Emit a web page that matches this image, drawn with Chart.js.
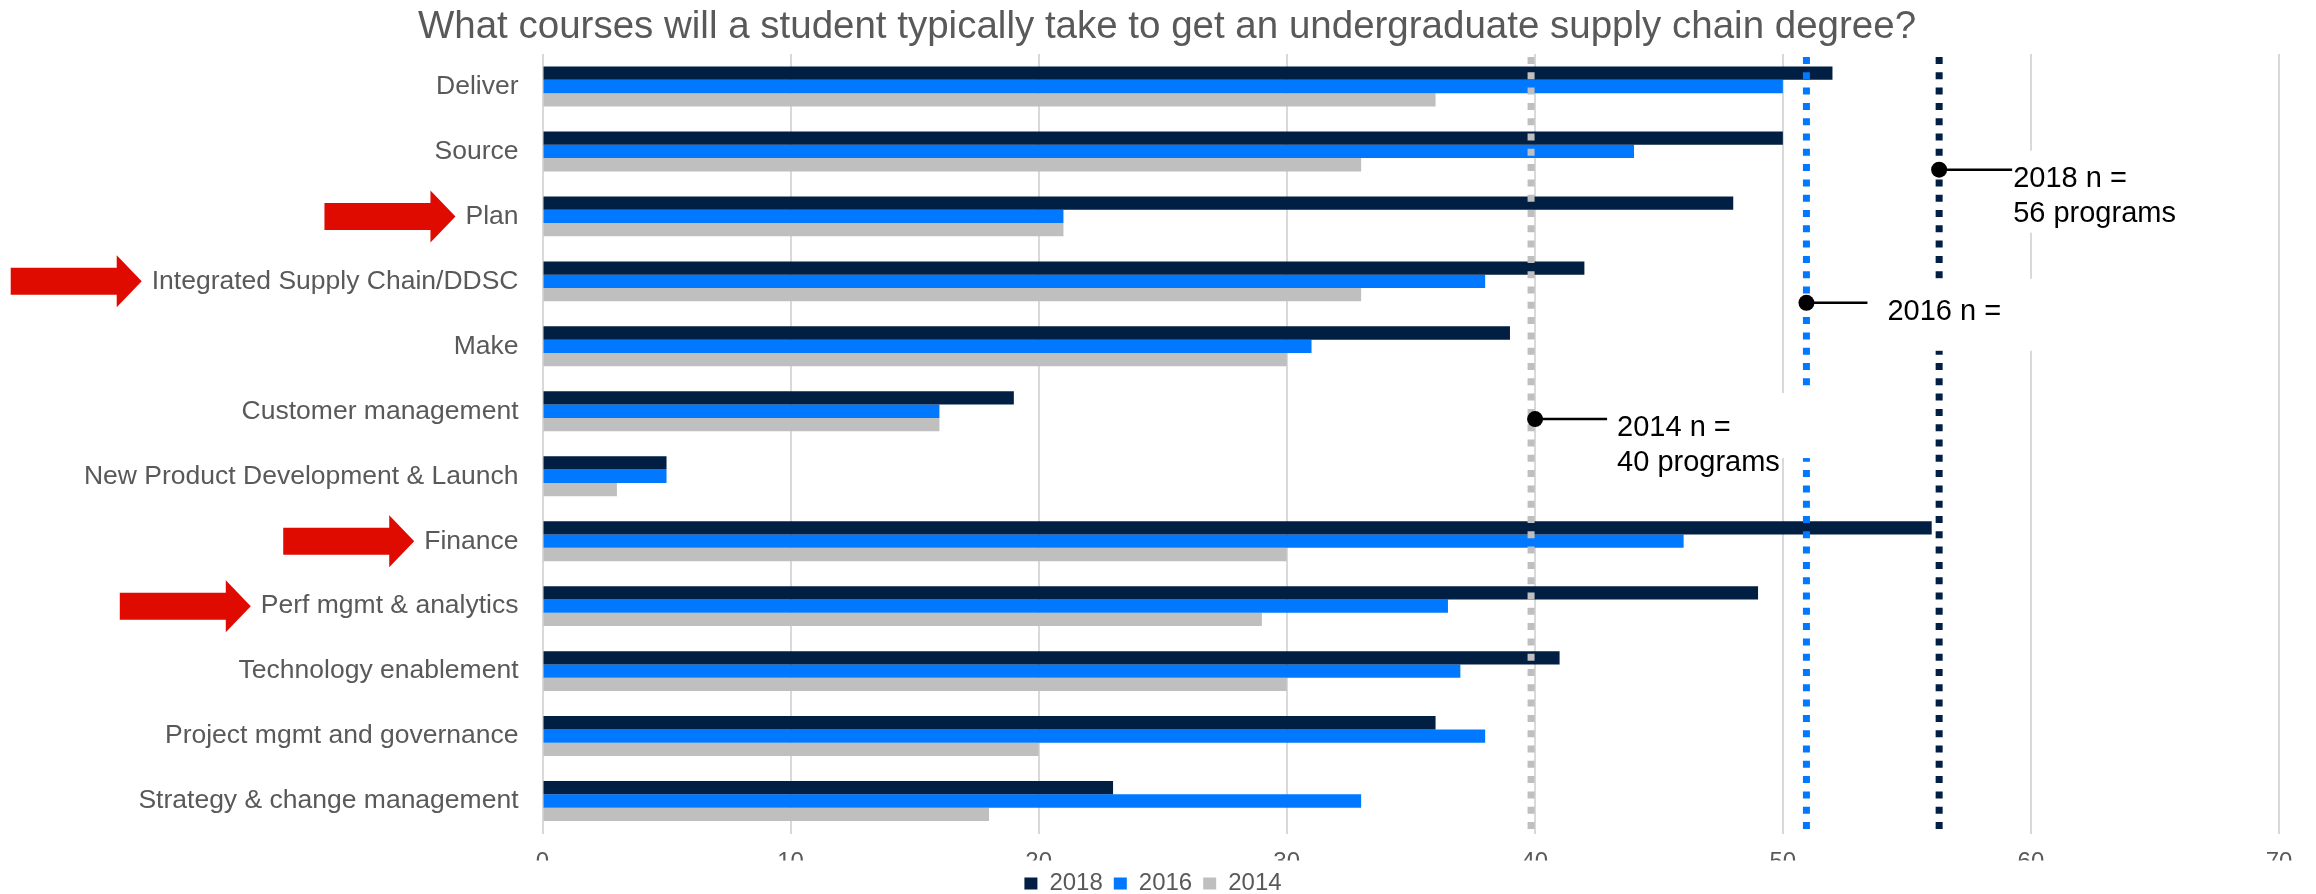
<!DOCTYPE html>
<html>
<head>
<meta charset="utf-8">
<title>Undergraduate supply chain courses</title>
<script src="https://cdn.jsdelivr.net/npm/chart.js@4.4.1/dist/chart.umd.min.js"></script>
<style>
  html, body { margin: 0; padding: 0; background: #fff; }
  #wrap { width: 2316px; height: 894px; }
</style>
</head>
<body>
<div id="wrap"><canvas id="coursesChart" width="2316" height="894"></canvas></div>
<script>
/** Data */
const CATEGORIES = [
  "Deliver",
  "Source",
  "Plan",
  "Integrated Supply Chain/DDSC",
  "Make",
  "Customer management",
  "New Product Development & Launch",
  "Finance",
  "Perf mgmt & analytics",
  "Technology enablement",
  "Project mgmt and governance",
  "Strategy & change management",
];
const YEARS       = ["2018", "2016", "2014"];
const SERIES_2018 = [52, 50, 48, 42, 39, 19, 5, 56, 49, 41, 36, 23];
const SERIES_2016 = [50, 44, 21, 38, 31, 16, 5, 46, 36.5, 37, 38, 33];
const SERIES_2014 = [36, 33, 21, 33, 30, 16, 3, 30, 29, 30, 20, 18];
const X_TICKS     = [0, 10, 20, 30, 40, 50, 60, 70];

// categories flagged with a red arrow
const HIGHLIGHTED = ["Plan", "Integrated Supply Chain/DDSC", "Finance", "Perf mgmt & analytics"];

// "n programs" markers: x value of each dotted line, category position of its callout dot
const N_LINE_VALUES  = [56.3, 50.95, 39.85];
const N_CALLOUT_AT   = [1.28, 3.33, 5.12];
const N_CALLOUT_TEXT = [["2018 n =", "56 programs"], ["2016 n ="], ["2014 n =", "40 programs"]];

/** Styling */
const FONT        = "'Liberation Sans', Arial, sans-serif";
const TEXT_GREY   = "#595959";
const COLORS      = ["#011F42", "#0078FF", "#BFBFBF"];
const ARROW_RED   = "#DF0B00";
const LABEL_SIZE  = 26.5;
const PLOT_LEFT   = 542.5;
const LEFT_PAD    = 55;
const LEGEND_NUDGE = -14;

// offsets (px) of dot, callout text and white text box from the dotted line
const CALLOUT_LAYOUT = [
  { dotDx: 0, textDx: 74, lineEnd: 73, boxTop: -19, boxBottom: 63 },
  { dotDx: 0, textDx: 81, lineEnd: 61, boxTop: -24, boxBottom: 48 },
  { dotDx: 4, textDx: 82, lineEnd: 72, boxTop: -26, boxBottom: 39 },
];

/** Red arrows next to highlighted category labels */
const arrowPlugin = {
  id: "arrows",
  afterDraw(chart) {
    const ctx = chart.ctx;
    const yScale = chart.scales.y;
    ctx.save();
    ctx.font = `${LABEL_SIZE}px ${FONT}`;
    ctx.fillStyle = ARROW_RED;
    HIGHLIGHTED.forEach((name) => {
      const idx = CATEGORIES.indexOf(name);
      const y = yScale.getPixelForValue(idx);
      const textLeft = yScale.right - yScale.options.ticks.padding - ctx.measureText(name).width;
      const tip = textLeft - 10;
      const headBase = tip - 25;
      const tail = tip - 131;
      ctx.beginPath();
      ctx.moveTo(tail, y - 13.5);
      ctx.lineTo(headBase, y - 13.5);
      ctx.lineTo(headBase, y - 26);
      ctx.lineTo(tip, y);
      ctx.lineTo(headBase, y + 26);
      ctx.lineTo(headBase, y + 13.5);
      ctx.lineTo(tail, y + 13.5);
      ctx.closePath();
      ctx.fill();
    });
    ctx.restore();
  },
};

/** Dotted "n" lines with their callouts */
const nLinesPlugin = {
  id: "nLines",
  afterLayout(chart) {
    // legend sits a little left of the title's centre in the original
    chart.legend.left += LEGEND_NUDGE;
    chart.legend.right += LEGEND_NUDGE;
  },
  afterDatasetsDraw(chart) {
    const ctx = chart.ctx;
    const { top, bottom } = chart.chartArea;
    const xs = chart.scales.x;
    const ys = chart.scales.y;
    ctx.save();

    // dotted lines
    ctx.lineWidth = 7;
    ctx.setLineDash([7, 8.3]);
    N_LINE_VALUES.forEach((v, i) => {
      const x = xs.getPixelForValue(v);
      ctx.strokeStyle = COLORS[i];
      ctx.beginPath();
      ctx.moveTo(x, top + 3);
      ctx.lineTo(x, bottom);
      ctx.stroke();
    });
    ctx.setLineDash([]);

    // white text boxes
    ctx.fillStyle = "#fff";
    N_LINE_VALUES.forEach((v, i) => {
      const lay = CALLOUT_LAYOUT[i];
      const x = xs.getPixelForValue(v) + lay.dotDx;
      const y = ys.getPixelForValue(N_CALLOUT_AT[i]);
      ctx.fillRect(x + lay.textDx - 8, y + lay.boxTop, 215, lay.boxBottom - lay.boxTop);
    });

    // connectors, dots, text
    ctx.strokeStyle = "#000";
    ctx.fillStyle = "#000";
    ctx.lineWidth = 2.5;
    ctx.font = `29px ${FONT}`;
    ctx.textAlign = "left";
    ctx.textBaseline = "alphabetic";
    N_LINE_VALUES.forEach((v, i) => {
      const lay = CALLOUT_LAYOUT[i];
      const x = xs.getPixelForValue(v) + lay.dotDx;
      const y = ys.getPixelForValue(N_CALLOUT_AT[i]);
      ctx.beginPath();
      ctx.moveTo(x, y);
      ctx.lineTo(x + lay.lineEnd, y);
      ctx.stroke();
      ctx.beginPath();
      ctx.arc(x, y, 8, 0, Math.PI * 2);
      ctx.fill();
      N_CALLOUT_TEXT[i].forEach((line, k) => {
        ctx.fillText(line, x + lay.textDx, y + 17 + k * 35);
      });
    });
    ctx.restore();
  },
};

const ctx = document.getElementById("coursesChart").getContext("2d");
new Chart(ctx, {
  type: "bar",
  data: {
    labels: CATEGORIES,
    datasets: [SERIES_2018, SERIES_2016, SERIES_2014].map((data, i) => ({
      label: YEARS[i],
      data,
      backgroundColor: COLORS[i],
      borderWidth: 0,
      categoryPercentage: 0.615,
      barPercentage: 1.0,
    })),
  },
  options: {
    indexAxis: "y",
    responsive: false,
    animation: false,
    layout: { padding: { left: LEFT_PAD, right: 37, top: 0, bottom: -11.5 } },
    scales: {
      x: {
        min: X_TICKS[0],
        max: X_TICKS[X_TICKS.length - 1],
        ticks: {
          stepSize: X_TICKS[1] - X_TICKS[0],
          color: TEXT_GREY,
          font: { family: FONT, size: 24 },
          padding: 14,
        },
        grid: { color: "#D9D9D9", lineWidth: 2, drawTicks: false },
        border: { display: false },
        afterFit: (scale) => { scale.height = 27; },
      },
      y: {
        ticks: {
          color: TEXT_GREY,
          font: { family: FONT, size: LABEL_SIZE },
          padding: 24,
          autoSkip: false,
        },
        grid: { display: false, drawTicks: false },
        border: { display: false },
        afterFit: (scale) => { scale.width = PLOT_LEFT - LEFT_PAD; },
      },
    },
    plugins: {
      title: {
        display: true,
        text: "What courses will a student typically take to get an undergraduate supply chain degree?",
        color: TEXT_GREY,
        font: { family: FONT, size: 38.5, weight: "normal" },
        padding: { top: 4, bottom: 3.8 },
      },
      legend: {
        position: "bottom",
        labels: {
          color: TEXT_GREY,
          font: { family: FONT, size: 24 },
          boxWidth: 13,
          boxHeight: 12,
          padding: 11,
        },
      },
      tooltip: { enabled: false },
    },
  },
  plugins: [nLinesPlugin, arrowPlugin],
});
</script>
</body>
</html>
